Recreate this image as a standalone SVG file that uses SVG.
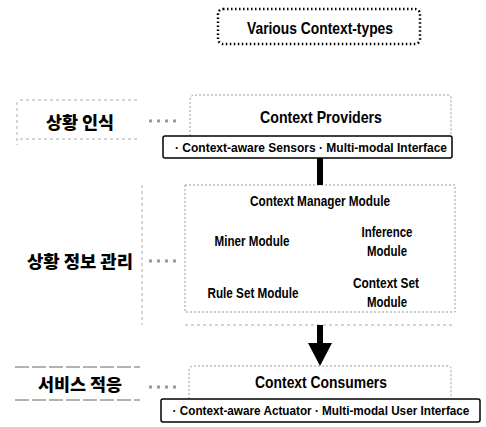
<svg xmlns="http://www.w3.org/2000/svg" width="486" height="427" viewBox="0 0 486 427">
<style>
.t{font-family:"Liberation Sans",Arial,sans-serif;font-weight:bold;fill:#000;text-anchor:middle;dominant-baseline:central}
.k{font-family:"Noto Sans CJK KR","Noto Sans",sans-serif;font-weight:900;fill:#000;text-anchor:middle;dominant-baseline:central;font-size:17px}
.faint{fill:none;stroke:#aaa;stroke-width:1;stroke-dasharray:3 3}
.gbox{fill:#fff;stroke:#999;stroke-width:1;stroke-dasharray:2 2}
.sub{fill:#fff;stroke:#000;stroke-width:1.5}
.lead{stroke:#999;stroke-width:3;stroke-dasharray:3 5}
</style>
<rect width="486" height="427" fill="#fff"/>

<g id="various">
<rect x="218" y="9" width="202" height="35" rx="5" fill="#fff" stroke="#000" stroke-width="2.5" stroke-dasharray="1.5 2.5"/>
<text class="t" x="320" y="28" font-size="16" textLength="146" lengthAdjust="spacingAndGlyphs">Various Context-types</text>
</g>

<g id="label-recognition">
<path class="faint" d="M20 100 H140 M17 102 V145 M20 139 H140"/>
<text class="k" x="80" y="121" textLength="68" lengthAdjust="spacingAndGlyphs">상황 인식</text>
<line class="lead" x1="149" y1="121" x2="180" y2="121"/>
</g>

<g id="providers">
<path class="gbox" d="M190 136 V100 Q190 95 195 95 H448 Q451 95 451 98 V136"/>
<text class="t" x="321" y="117" font-size="17" textLength="122" lengthAdjust="spacingAndGlyphs">Context Providers</text>
<rect class="sub" x="163" y="136" width="289" height="22" rx="2"/>
<text class="t" x="311" y="147" font-size="13" textLength="272" lengthAdjust="spacingAndGlyphs">· Context-aware Sensors  · Multi-modal Interface</text>
</g>

<g id="label-management">
<path class="faint" d="M142 185 V325"/>
<text class="k" x="80" y="260" textLength="106" lengthAdjust="spacingAndGlyphs">상황 정보 관리</text>
<line class="lead" x1="149" y1="261" x2="180" y2="261"/>
</g>

<g id="manager">
<rect class="gbox" x="185" y="185" width="270" height="127"/>
<line x1="185" y1="325" x2="455" y2="325" stroke="#aaa" stroke-width="1" stroke-dasharray="3 3"/>
<text class="t" x="320" y="200" font-size="15" textLength="140" lengthAdjust="spacingAndGlyphs">Context Manager Module</text>
<text class="t" x="252" y="240" font-size="15" textLength="75" lengthAdjust="spacingAndGlyphs">Miner Module</text>
<text class="t" x="387" y="231" font-size="15" textLength="51" lengthAdjust="spacingAndGlyphs">Inference</text>
<text class="t" x="387" y="250" font-size="15" textLength="40" lengthAdjust="spacingAndGlyphs">Module</text>
<text class="t" x="253" y="292" font-size="15" textLength="91" lengthAdjust="spacingAndGlyphs">Rule Set Module</text>
<text class="t" x="386" y="282" font-size="15" textLength="66" lengthAdjust="spacingAndGlyphs">Context Set</text>
<text class="t" x="387" y="301" font-size="15" textLength="40" lengthAdjust="spacingAndGlyphs">Module</text>
</g>

<g id="label-service">
<path d="M15 367 H140 M15 400 H140" stroke="#666" stroke-width="1" stroke-dasharray="14 3"/>
<text class="k" x="80" y="383" textLength="84" lengthAdjust="spacingAndGlyphs">서비스 적응</text>
<line class="lead" x1="149" y1="387" x2="180" y2="387"/>
</g>

<g id="consumers">
<path class="gbox" d="M189 399 V371 Q189 366 194 366 H448 Q451 366 451 369 V399"/>
<text class="t" x="321" y="382" font-size="17" textLength="132" lengthAdjust="spacingAndGlyphs">Context Consumers</text>
<rect class="sub" x="161" y="399" width="319" height="23" rx="2"/>
<text class="t" transform="translate(321 410.5) scale(0.8 1)" x="0" y="0" font-size="12.5" textLength="371" lengthAdjust="spacingAndGlyphs">· Context-aware Actuator  · Multi-modal User Interface</text>
</g>

<g id="connectors">
<rect x="317" y="158" width="6" height="27" fill="#000"/>
<rect x="317" y="325" width="6" height="20" fill="#000"/>
<polygon points="308,343 332,343 320,366" fill="#000"/>
</g>
</svg>
